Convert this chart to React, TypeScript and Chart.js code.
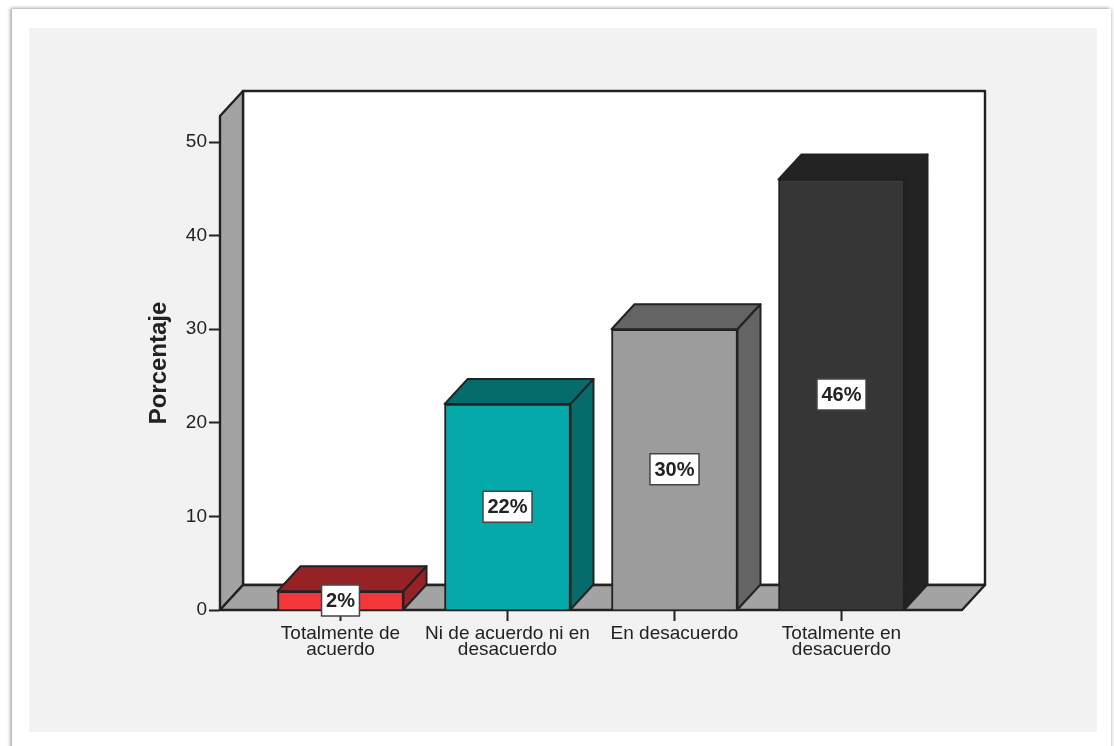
import React, { useEffect, useRef } from "react";
import { Chart, registerables } from "chart.js";

Chart.register(...registerables);

const categories = [
  ["Totalmente de", "acuerdo"],
  ["Ni de acuerdo ni en", "desacuerdo"],
  ["En desacuerdo"],
  ["Totalmente en", "desacuerdo"],
];
const values = [2, 22, 30, 46];
const valueLabels = ["2%", "22%", "30%", "46%"];
const frontColors = ["#f4363b", "#05a9a9", "#9c9c9c", "#363636"];
const topColors = ["#952325", "#056b6b", "#646464", "#232323"];
const sideColors = ["#952325", "#056b6b", "#646464", "#232323"];
const yTicks = [0, 10, 20, 30, 40, 50];
const yMax = 52.78;
const xMin = -0.7216;
const xMax = 3.7216;
const DX = 23;
const DY = -25;
const FONT = "'Liberation Sans', Arial, sans-serif";
const INK = "#222222";

function poly(ctx: CanvasRenderingContext2D, pts: number[][], fill: string) {
  ctx.beginPath();
  pts.forEach((p, i) => (i ? ctx.lineTo(p[0], p[1]) : ctx.moveTo(p[0], p[1])));
  ctx.closePath();
  ctx.fillStyle = fill;
  ctx.fill();
  ctx.stroke();
}

const walls = {
  id: "walls",
  beforeDatasetsDraw(chart: any) {
    const { ctx, chartArea: a } = chart;
    ctx.save();
    ctx.strokeStyle = INK;
    ctx.lineWidth = 2.4;
    ctx.lineJoin = "round";
    poly(ctx, [[a.left + DX, a.top + DY], [a.right + DX, a.top + DY], [a.right + DX, a.bottom + DY], [a.left + DX, a.bottom + DY]], "#ffffff");
    poly(ctx, [[a.left, a.top], [a.left + DX, a.top + DY], [a.left + DX, a.bottom + DY], [a.left, a.bottom]], "#a3a3a3");
    poly(ctx, [[a.left, a.bottom], [a.left + DX, a.bottom + DY], [a.right + DX, a.bottom + DY], [a.right, a.bottom]], "#a3a3a3");
    ctx.restore();
  },
};

const bars3d = {
  id: "bars3d",
  afterDatasetsDraw(chart: any) {
    const { ctx } = chart;
    const meta = chart.getDatasetMeta(0);
    ctx.save();
    ctx.strokeStyle = INK;
    ctx.lineWidth = 2;
    ctx.lineJoin = "round";
    meta.data.forEach((bar: any, i: number) => {
      const { x, y, base, width } = bar.getProps(["x", "y", "base", "width"], true);
      const l = x - width / 2;
      const r = x + width / 2;
      poly(ctx, [[l, y], [l + DX, y + DY], [r + DX, y + DY], [r, y]], topColors[i]);
      poly(ctx, [[r, y], [r + DX, y + DY], [r + DX, base + DY], [r, base]], sideColors[i]);
    });
    meta.data.forEach((bar: any, i: number) => {
      const { x, y, base } = bar.getProps(["x", "y", "base"], true);
      const cy = (y + base) / 2;
      const text = valueLabels[i];
      ctx.font = `bold 20px ${FONT}`;
      const w = ctx.measureText(text).width + 9;
      const h = 31;
      ctx.fillStyle = "#ffffff";
      ctx.lineWidth = 1.5;
      ctx.strokeStyle = "#444444";
      ctx.fillRect(x - w / 2, cy - h / 2, w, h);
      ctx.strokeRect(x - w / 2, cy - h / 2, w, h);
      ctx.fillStyle = INK;
      ctx.textAlign = "center";
      ctx.textBaseline = "middle";
      ctx.fillText(text, x, cy + 1);
    });
    ctx.restore();
  },
};

export default function App() {
  const ref = useRef<HTMLCanvasElement>(null);
  useEffect(() => {
    const chart = new Chart(ref.current as HTMLCanvasElement, {
      type: "bar",
      data: {
        datasets: [
          {
            data: values.map((v, i) => ({ x: i, y: v })),
            backgroundColor: frontColors,
            borderColor: INK,
            borderWidth: 2,
            barThickness: 126,
          },
        ],
      },
      options: {
        animation: false,
        responsive: false,
        events: [],
        layout: { padding: { top: 116, right: 152, left: 145, bottom: 0 } },
        plugins: { legend: { display: false }, tooltip: { enabled: false } },
        scales: {
          x: {
            type: "linear",
            min: xMin,
            max: xMax,
            offset: false,
            afterBuildTicks(scale: any) {
              scale.ticks = categories.map((_, i) => ({ value: i }));
            },
            afterFit(scale: any) {
              scale.height = 746 - 610;
            },
            ticks: {
              autoSkip: false,
              maxRotation: 0,
              minRotation: 0,
              padding: 5,
              color: INK,
              font: { family: FONT, size: 19, lineHeight: 0.85 },
              callback: (v: any) => categories[v],
            },
            grid: { offset: false, drawOnChartArea: false, drawTicks: true, tickLength: 11, tickWidth: 2, tickColor: INK },
            border: { display: true, color: INK, width: 2 },
          },
          y: {
            min: 0,
            max: yMax,
            afterBuildTicks(scale: any) {
              scale.ticks = yTicks.map((value) => ({ value }));
            },
            afterFit(scale: any) {
              scale.width = 75;
            },
            title: {
              display: true,
              text: "Porcentaje",
              color: INK,
              font: { family: FONT, size: 24, weight: "bold" },
              padding: 0,
            },
            ticks: {
              padding: 2,
              color: INK,
              font: { family: FONT, size: 19 },
            },
            grid: { drawOnChartArea: false, drawTicks: true, tickLength: 11, tickWidth: 2, tickColor: INK },
            border: { display: true, color: INK, width: 2 },
          },
        },
      },
      plugins: [walls, bars3d],
    } as any);
    return () => chart.destroy();
  }, []);

  return (
    <div
      style={{
        position: "fixed",
        inset: 0,
        background: "#ffffff",
        overflow: "hidden",
      }}
    >
      <div
        style={{
          position: "absolute",
          left: 12,
          top: 9,
          width: 1099,
          height: 760,
          background: "#ffffff",
          boxShadow: "-2px -1px 3px #b0b0b0, 1px 0 3px #cccccc",
        }}
      />
      <div
        style={{
          position: "absolute",
          left: 29,
          top: 28,
          width: 1068,
          height: 704,
          background: "#f2f2f2",
        }}
      />
      <canvas
        ref={ref}
        width={1114}
        height={746}
        style={{ position: "absolute", left: 0, top: 0, width: 1114, height: 746 }}
      />
    </div>
  );
}
